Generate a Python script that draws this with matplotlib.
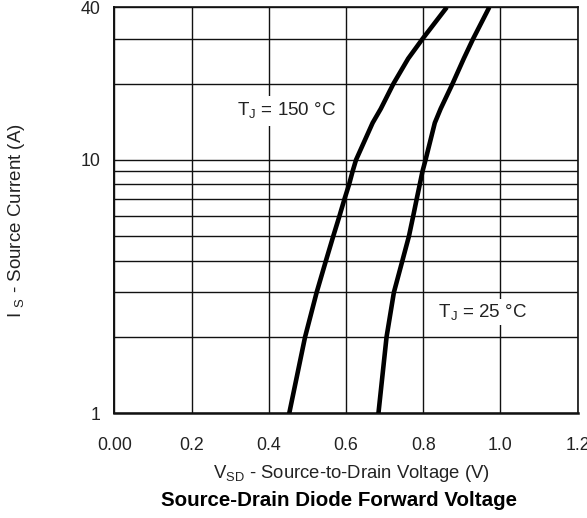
import matplotlib
matplotlib.use("Agg")
import matplotlib.pyplot as plt
from matplotlib.ticker import FixedLocator, NullFormatter

plt.rcParams['font.family'] = ['Liberation Sans', 'DejaVu Sans']
plt.rcParams['mathtext.fontset'] = 'custom'
plt.rcParams['mathtext.rm'] = 'Liberation Sans'

# Data
current_A = [1, 2, 3, 4, 5, 6, 7, 8, 9, 10, 14.0, 15.9, 20, 25.1, 30, 40]
vsd_150C = [0.453, 0.494, 0.524, 0.548, 0.567, 0.583, 0.596, 0.608, 0.617,
            0.626, 0.669, 0.690, 0.723, 0.761, 0.798, 0.861]
vsd_25C = [0.684, 0.705, 0.724, 0.746, 0.763, 0.774, 0.783, 0.791, 0.798,
           0.806, 0.830, 0.845, 0.876, 0.905, 0.929, 0.971]

x_ticks = [0.0, 0.2, 0.4, 0.6, 0.8, 1.0, 1.2]
x_tick_labels = ['0.00', '0.2', '0.4', '0.6', '0.8', '1.0', '1.2']
y_major = [1, 10, 40]
y_major_labels = ['1', '10', '40']
y_minor = [2, 3, 4, 5, 6, 7, 8, 9, 20, 30]

W, H = 587, 518
fig = plt.figure(figsize=(W / 100, H / 100), dpi=100)
ax = fig.add_axes([114.3 / W, 1 - 413.3 / H, (577.7 - 114.3) / W, (413.3 - 7.3) / H])

ax.set_yscale('log')
ax.set_xlim(0, 1.2)
ax.set_ylim(1, 40)

ax.plot(vsd_150C, current_A, color='black', lw=3.3, solid_capstyle='butt',
        solid_joinstyle='round', zorder=3)
ax.plot(vsd_25C, current_A, color='black', lw=3.3, solid_capstyle='butt',
        solid_joinstyle='round', zorder=3)

ax.set_xticks(x_ticks)
ax.set_xticklabels(x_tick_labels)
ax.yaxis.set_major_locator(FixedLocator(y_major))
ax.set_yticklabels(y_major_labels)
ax.yaxis.set_minor_locator(FixedLocator(y_minor))
ax.yaxis.set_minor_formatter(NullFormatter())

ax.tick_params(axis='both', which='both', length=0, labelsize=12.8, colors='#222222')
ax.tick_params(axis='x', pad=17)
ax.tick_params(axis='y', pad=10)

ax.grid(True, which='major', axis='x', color='#111111', lw=1.0)
ax.grid(True, which='both', axis='y', color='#111111', lw=1.0)
ax.set_axisbelow(True)

for s in ax.spines.values():
    s.set_linewidth(1.2)
    s.set_color('#111111')
ax.spines['bottom'].set_linewidth(1.8)
ax.spines['left'].set_linewidth(1.4)

ax.text(0.446, 15.6, r'T$_\mathregular{J}$ = 150 °C', ha='center', va='center',
        fontsize=13.5, color='#222222', zorder=2,
        bbox=dict(boxstyle='square,pad=0.25', fc='white', ec='none'))
ax.text(0.948, 2.50, r'  T$_\mathregular{J}$ = 25 °C  ', ha='center', va='center',
        fontsize=13.5, color='#222222', zorder=2,
        bbox=dict(boxstyle='square,pad=0.15', fc='white', ec='none'))

fig.text(16.5 / W, 1 - 221 / H, r'I $_\mathregular{S}$ - Source Current (A)', rotation=90,
         ha='center', va='center', fontsize=13.5, color='#222222')
fig.text(351 / W, 1 - 473 / H, r'V$_\mathregular{SD}$ - Source-to-Drain Voltage (V)',
         ha='center', va='center', fontsize=13.3, color='#222222')
fig.text(339 / W, 1 - 500 / H, 'Source-Drain Diode Forward Voltage',
         ha='center', va='center', fontsize=14.8, fontweight='bold', color='black')

fig.savefig('out.png', dpi=100)
